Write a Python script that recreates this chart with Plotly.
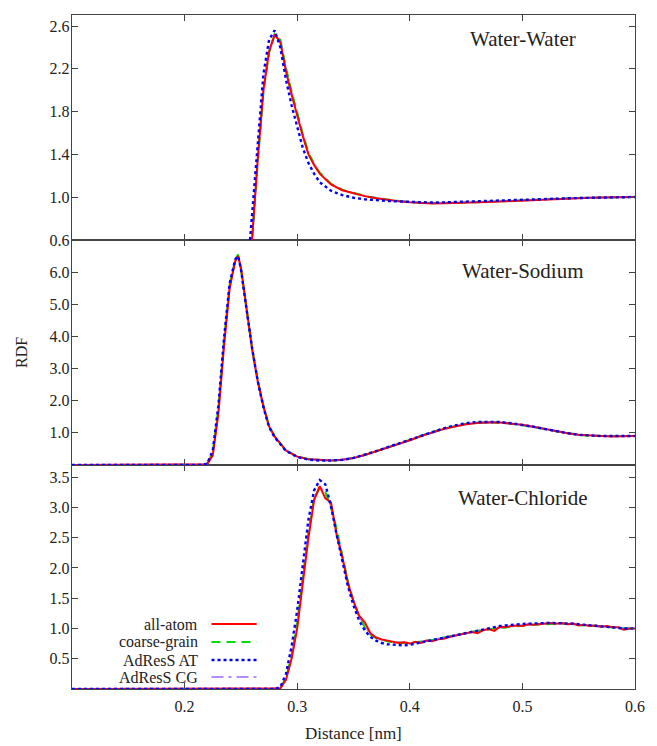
import plotly.graph_objects as go

# ---------------- data ----------------
series_names = ["all-atom", "coarse-grain", "AdResS AT", "AdResS CG"]
panel_titles = ["Water-Water", "Water-Sodium", "Water-Chloride"]

x_ticks = [0.2, 0.3, 0.4, 0.5, 0.6]
y_ticks_ww = [0.6, 1.0, 1.4, 1.8, 2.2, 2.6]
y_ticks_ws = [1.0, 2.0, 3.0, 4.0, 5.0, 6.0]
y_ticks_wc = [0.5, 1.0, 1.5, 2.0, 2.5, 3.0, 3.5]

# Water-Water
x_ww = [0.10, 0.25, 0.255, 0.26, 0.265, 0.27, 0.275, 0.28, 0.285, 0.29, 0.295, 0.30, 0.305, 0.31,
        0.315, 0.32, 0.33, 0.34, 0.35, 0.36, 0.37, 0.38, 0.39, 0.40, 0.41, 0.42, 0.43, 0.44, 0.45,
        0.46, 0.47, 0.48, 0.49, 0.50, 0.51, 0.52, 0.53, 0.54, 0.55, 0.56, 0.57, 0.58, 0.59, 0.60]
aa_ww = [0, 0, 0.05, 0.62, 1.36, 2.00, 2.36, 2.52, 2.45, 2.18, 1.96, 1.76, 1.57, 1.40, 1.30, 1.22,
         1.12, 1.065, 1.035, 1.01, 0.99, 0.975, 0.962, 0.952, 0.945, 0.942, 0.944, 0.945, 0.948,
         0.952, 0.955, 0.96, 0.965, 0.972, 0.977, 0.982, 0.985, 0.99, 0.993, 0.995, 0.998, 1.0, 1.0, 1.002]
cg_ww = [0, 0, 0.04, 0.6, 1.33, 1.98, 2.35, 2.52, 2.47, 2.21, 1.99, 1.79, 1.59, 1.42, 1.31, 1.23,
         1.125, 1.07, 1.038, 1.012, 0.992, 0.977, 0.964, 0.954, 0.947, 0.944, 0.945, 0.946, 0.949,
         0.953, 0.956, 0.961, 0.966, 0.972, 0.977, 0.982, 0.986, 0.99, 0.993, 0.995, 0.998, 1.0, 1.0, 1.002]
at_ww = [0, 0, 0.2, 0.85, 1.55, 2.15, 2.47, 2.56, 2.40, 2.10, 1.86, 1.65, 1.46, 1.32, 1.22, 1.14,
         1.06, 1.02, 0.995, 0.98, 0.97, 0.965, 0.96, 0.955, 0.952, 0.95, 0.952, 0.955, 0.957,
         0.96, 0.962, 0.966, 0.97, 0.975, 0.978, 0.982, 0.986, 0.99, 0.993, 0.995, 0.998, 1.0, 1.0, 1.002]
acg_ww = [0, 0, 0.05, 0.63, 1.36, 2.0, 2.37, 2.53, 2.47, 2.2, 1.98, 1.78, 1.58, 1.41, 1.31, 1.23,
          1.125, 1.07, 1.037, 1.012, 0.992, 0.977, 0.965, 0.955, 0.948, 0.945, 0.946, 0.947, 0.95,
          0.953, 0.957, 0.962, 0.967, 0.973, 0.978, 0.982, 0.986, 0.99, 0.993, 0.996, 0.998, 1.0, 1.0, 1.002]

# Water-Sodium
x_ws = [0.10, 0.215, 0.22, 0.225, 0.23, 0.235, 0.24, 0.245, 0.2475, 0.25, 0.255, 0.26, 0.265, 0.27,
        0.275, 0.28, 0.29, 0.30, 0.31, 0.32, 0.33, 0.34, 0.35, 0.36, 0.37, 0.38, 0.39, 0.40, 0.41,
        0.42, 0.43, 0.44, 0.45, 0.46, 0.47, 0.48, 0.49, 0.50, 0.51, 0.52, 0.53, 0.54, 0.55, 0.56,
        0.57, 0.58, 0.59, 0.60]
aa_ws = [0, 0, 0.02, 0.3, 1.6, 3.7, 5.5, 6.35, 6.5, 6.15, 4.8, 3.6, 2.6, 1.82, 1.2, 0.88, 0.45, 0.26,
         0.18, 0.15, 0.14, 0.16, 0.22, 0.31, 0.42, 0.53, 0.65, 0.77, 0.9, 1.02, 1.12, 1.2, 1.27, 1.31,
         1.33, 1.32, 1.29, 1.25, 1.19, 1.12, 1.06, 0.99, 0.94, 0.91, 0.9, 0.89, 0.9, 0.9]
cg_ws = [0, 0, 0.03, 0.4, 1.75, 3.85, 5.6, 6.4, 6.55, 6.1, 4.85, 3.62, 2.62, 1.84, 1.22, 0.9, 0.46,
         0.27, 0.18, 0.15, 0.14, 0.16, 0.22, 0.31, 0.42, 0.54, 0.66, 0.78, 0.91, 1.03, 1.13, 1.21,
         1.28, 1.32, 1.33, 1.32, 1.29, 1.24, 1.18, 1.12, 1.05, 0.99, 0.94, 0.91, 0.9, 0.9, 0.9, 0.9]
at_ws = [0, 0, 0.04, 0.45, 1.85, 3.95, 5.65, 6.4, 6.5, 6.1, 4.85, 3.62, 2.6, 1.8, 1.18, 0.86, 0.44,
         0.25, 0.17, 0.14, 0.14, 0.16, 0.22, 0.32, 0.43, 0.55, 0.67, 0.79, 0.92, 1.04, 1.14, 1.23,
         1.3, 1.34, 1.35, 1.34, 1.3, 1.25, 1.19, 1.12, 1.05, 0.99, 0.94, 0.91, 0.9, 0.9, 0.9, 0.9]
acg_ws = [0, 0, 0.02, 0.35, 1.7, 3.8, 5.55, 6.38, 6.52, 6.12, 4.82, 3.6, 2.6, 1.83, 1.21, 0.89, 0.45,
          0.26, 0.18, 0.15, 0.14, 0.16, 0.22, 0.31, 0.42, 0.53, 0.65, 0.77, 0.9, 1.02, 1.12, 1.2,
          1.27, 1.31, 1.32, 1.31, 1.28, 1.24, 1.18, 1.12, 1.05, 0.99, 0.94, 0.91, 0.9, 0.9, 0.9, 0.9]

# Water-Chloride
x_wc = [0.10, 0.28, 0.285, 0.29, 0.295, 0.30, 0.305, 0.31, 0.315, 0.32, 0.325, 0.33, 0.335, 0.34,
        0.345, 0.35, 0.355, 0.36, 0.365, 0.37, 0.375, 0.38, 0.385, 0.39, 0.395, 0.40, 0.405, 0.41,
        0.415, 0.42, 0.425, 0.43, 0.435, 0.44, 0.445, 0.45, 0.455, 0.46, 0.465, 0.47, 0.475, 0.48,
        0.485, 0.49, 0.495, 0.50, 0.505, 0.51, 0.515, 0.52, 0.525, 0.53, 0.535, 0.54, 0.545, 0.55,
        0.555, 0.56, 0.565, 0.57, 0.575, 0.58, 0.585, 0.59, 0.595, 0.60]
aa_wc = [0, 0, 0.01, 0.15, 0.5, 1.0, 1.72, 2.5, 3.12, 3.35, 3.15, 3.08, 2.55, 2.18, 1.75, 1.45, 1.21,
         1.1, 0.92, 0.85, 0.82, 0.8, 0.79, 0.76, 0.77, 0.75, 0.78, 0.76, 0.8, 0.79, 0.82, 0.83, 0.86,
         0.88, 0.9, 0.91, 0.94, 0.92, 0.97, 0.99, 0.96, 1.03, 1.02, 1.04, 1.05, 1.04, 1.07, 1.06,
         1.07, 1.08, 1.09, 1.08, 1.09, 1.07, 1.08, 1.05, 1.06, 1.04, 1.05, 1.03, 1.04, 1.02, 1.02,
         0.98, 1.0, 1.0]
cg_wc = [0, 0, 0.02, 0.18, 0.55, 1.1, 1.85, 2.6, 3.15, 3.32, 3.25, 3.0, 2.65, 2.2, 1.78, 1.45, 1.2,
         1.02, 0.9, 0.84, 0.81, 0.79, 0.77, 0.76, 0.76, 0.76, 0.77, 0.78, 0.79, 0.81, 0.83, 0.85,
         0.87, 0.88, 0.9, 0.92, 0.94, 0.96, 0.97, 0.99, 1.0, 1.01, 1.02, 1.03, 1.04, 1.05, 1.06, 1.06,
         1.07, 1.07, 1.08, 1.08, 1.08, 1.07, 1.07, 1.06, 1.05, 1.05, 1.04, 1.03, 1.03, 1.02, 1.01,
         1.0, 1.0, 1.0]
at_wc = [0, 0, 0.03, 0.25, 0.7, 1.3, 2.05, 2.8, 3.28, 3.45, 3.38, 3.02, 2.55, 2.1, 1.7, 1.38, 1.13,
         0.97, 0.86, 0.8, 0.76, 0.74, 0.73, 0.72, 0.72, 0.73, 0.75, 0.77, 0.79, 0.81, 0.83, 0.85,
         0.87, 0.89, 0.91, 0.93, 0.95, 0.97, 0.99, 1.01, 1.02, 1.04, 1.05, 1.06, 1.06, 1.07, 1.08,
         1.08, 1.09, 1.09, 1.09, 1.09, 1.09, 1.08, 1.08, 1.07, 1.06, 1.05, 1.04, 1.03, 1.03, 1.02,
         1.01, 1.0, 1.0, 1.0]
acg_wc = [0, 0, 0.01, 0.16, 0.52, 1.05, 1.8, 2.55, 3.13, 3.34, 3.24, 3.02, 2.62, 2.17, 1.76, 1.44,
          1.2, 1.03, 0.91, 0.85, 0.81, 0.79, 0.78, 0.77, 0.76, 0.76, 0.77, 0.78, 0.8, 0.81, 0.83,
          0.85, 0.87, 0.89, 0.9, 0.92, 0.94, 0.96, 0.98, 0.99, 1.0, 1.02, 1.03, 1.04, 1.04, 1.05,
          1.06, 1.06, 1.07, 1.07, 1.08, 1.08, 1.08, 1.07, 1.07, 1.06, 1.05, 1.05, 1.04, 1.03, 1.03,
          1.02, 1.01, 1.0, 1.0, 1.0]

# ---------------- styling ----------------
FONT = "Liberation Serif"
AX = "#444444"
styles = [
    dict(color="#ff0000", dash="solid", width=2.0),
    dict(color="#00dd00", dash="9px,6px", width=2),
    dict(color="#0000ff", dash="dot", width=2.4),
    dict(color="#b48cff", dash="12px,5px,3px,5px", width=2),
]

panels = [
    ("x3", "y3", x_ww, [aa_ww, cg_ww, at_ww, acg_ww]),
    ("x2", "y2", x_ws, [aa_ws, cg_ws, at_ws, acg_ws]),
    ("x", "y", x_wc, [aa_wc, cg_wc, at_wc, acg_wc]),
]

fig = go.Figure()
draw_order = [3, 1, 0, 2]
for xa, ya, xs, ser in panels:
    for i in draw_order:
        st = styles[i]
        fig.add_trace(go.Scatter(
            x=xs, y=ser[i], mode="lines", name=series_names[i], showlegend=False,
            xaxis=xa, yaxis=ya,
            line=dict(color=st["color"], dash=st["dash"], width=st["width"]),
            opacity=0.85 if i == 3 else 1.0,
        ))

PH = 674.0
d1 = 224 / PH
d2 = 449 / PH

common_x = dict(range=[0.1, 0.6], tickvals=x_ticks, ticks="inside", ticklen=6, tickwidth=1.4,
                tickcolor=AX, showline=True, linecolor=AX, linewidth=1.4, mirror="ticks",
                showgrid=False, zeroline=False,
                tickfont=dict(family=FONT, size=16, color="#222"))
common_y = dict(ticks="inside", ticklen=6, tickwidth=1.4, tickcolor=AX, showline=True,
                linecolor=AX, linewidth=1.4, mirror="ticks", showgrid=False, zeroline=False,
                tickfont=dict(family=FONT, size=16, color="#222"), ticklabelstandoff=-2)

fig.update_layout(
    width=657, height=746,
    margin=dict(l=72, r=12, t=15, b=57),
    paper_bgcolor="white", plot_bgcolor="white",
    showlegend=False,
    xaxis=dict(**common_x, anchor="y", ticklabelstandoff=3),
    xaxis2=dict(**common_x, anchor="y2", matches="x", showticklabels=False),
    xaxis3=dict(**common_x, anchor="y3", matches="x", showticklabels=False),
    yaxis=dict(**common_y, domain=[0, d1], range=[0, 3.7], tickvals=y_ticks_wc,
               ticktext=[f"{v:.1f}" for v in y_ticks_wc]),
    yaxis2=dict(**common_y, domain=[d1, d2], range=[0, 7.0], tickvals=y_ticks_ws,
                ticktext=[f"{v:.1f}" for v in y_ticks_ws]),
    yaxis3=dict(**common_y, domain=[d2, 1.0], range=[0.6, 2.703], tickvals=y_ticks_ww,
                ticktext=[f"{v:.1f}" for v in y_ticks_ww]),
)

# panel titles
title_pos = [0.9644, 0.620, 0.283]
for t, yp in zip(panel_titles, title_pos):
    fig.add_annotation(text=t, xref="paper", yref="paper", x=0.801, y=yp, showarrow=False,
                       xanchor="center", yanchor="middle",
                       font=dict(family=FONT, size=21, color="#222"))

# axis titles
fig.add_annotation(text="RDF", xref="paper", yref="paper", x=-0.0908, y=0.5, textangle=-90,
                   showarrow=False, xanchor="center", yanchor="middle",
                   font=dict(family=FONT, size=16, color="#222"))
fig.add_annotation(text="Distance [nm]", xref="paper", yref="paper", x=0.5, y=-0.0655,
                   showarrow=False, xanchor="center", yanchor="middle",
                   font=dict(family=FONT, size=17, color="#222"))

# gnuplot-style key (text, then sample line)
key_y = [0.0964, 0.0697, 0.043, 0.0178]
for i, yk in enumerate(key_y):
    st = styles[i]
    fig.add_annotation(text=series_names[i], xref="paper", yref="paper", x=0.2269, y=yk,
                       showarrow=False, xanchor="right", yanchor="middle",
                       font=dict(family=FONT, size=16, color="#222"))
    fig.add_shape(type="line", xref="paper", yref="paper", x0=0.2478, x1=0.328, y0=yk, y1=yk,
                  line=dict(color=st["color"], dash=st["dash"], width=st["width"]))

fig.write_html("out.html")
